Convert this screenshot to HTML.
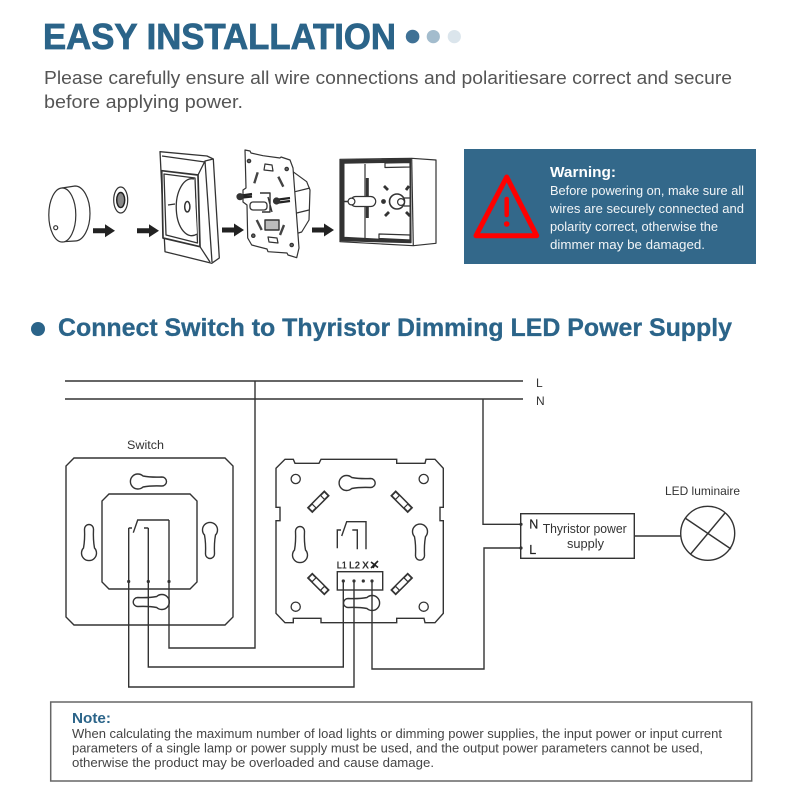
<!DOCTYPE html>
<html><head><meta charset="utf-8"><style>
html,body{margin:0;padding:0;background:#fff;width:800px;height:800px;overflow:hidden}
svg{display:block;filter:blur(0.35px)}
text{font-family:"Liberation Sans",sans-serif}
</style></head><body>
<svg width="800" height="800" viewBox="0 0 800 800" xmlns="http://www.w3.org/2000/svg">
<defs>
<path id="kh" d="M5,-5.5 Q13,-4 24,-4.5 A4.5,4.5 0 0 1 24,4.5 Q13,4 5,5.5 A7.5,7.5 0 1 1 5,-5.5Z" fill="#fff" stroke="#333" stroke-width="1.4"/>
<g id="sl"><rect x="-11.5" y="-3" width="23" height="6" fill="#fff" stroke="#333" stroke-width="1.8"/><rect x="-6" y="-3" width="12" height="6" fill="#fff" stroke="#333" stroke-width="1.2"/></g>
<path id="ar" d="M0,-2.5 H12 V-6.5 L22,0 L12,6.5 V2.5 H0Z" fill="#222"/>
</defs>

<text x="43" y="49" font-size="36" font-weight="700" fill="#2b6489" stroke="#2b6489" stroke-width="0.8" textLength="353" lengthAdjust="spacingAndGlyphs">EASY INSTALLATION</text>
<circle cx="412.6" cy="36.6" r="6.8" fill="#3f7195"/>
<circle cx="433.3" cy="36.6" r="6.6" fill="#a3bccd"/>
<circle cx="454.3" cy="36.6" r="6.6" fill="#dbe5ec"/>
<text x="44" y="84" font-size="18" fill="#555" textLength="688" lengthAdjust="spacingAndGlyphs">Please carefully ensure all wire connections and polaritiesare correct and secure</text>
<text x="44" y="108" font-size="18" fill="#555" textLength="199" lengthAdjust="spacingAndGlyphs">before applying power.</text>

<!-- knob -->
<g fill="#fff" stroke="#333" stroke-width="1.2">
<path d="M62,188 L75,186 A15,27.5 0 0 1 75,241 L62,241.7Z"/>
<ellipse cx="62.3" cy="215" rx="13.5" ry="27"/>
<circle cx="55.7" cy="227.7" r="2"/>
<ellipse cx="120.7" cy="200" rx="7" ry="13"/>
<ellipse cx="120.7" cy="200" rx="4" ry="7.5" fill="#888" stroke="#222" stroke-width="1.5"/>
</g>
<use href="#ar" x="93" y="230.7"/>
<use href="#ar" x="137" y="230.7"/>
<use href="#ar" x="222" y="230"/>
<use href="#ar" x="312" y="230"/>

<!-- plate -->
<g fill="#fff" stroke="#333" stroke-width="1.3" stroke-linejoin="round">
<path d="M160,151.7 L207,156 L213.3,159 L219.3,258 L211.7,263.3 L165,251.7Z"/>
<path d="M162,156 L205,162" fill="none"/>
<path d="M161.7,170.7 L198,175 L200,246.7 L163,238Z" stroke-width="1.7"/>
<path d="M164,174 L195,178 L197.5,243 L166,235Z"/>
<path d="M198,175 L205,161 L213.3,159 M200,246.7 L210,262 M205,161 L212,262" fill="none"/>
<path d="M194,179 A15.5,28.5 0 1 0 197,234" fill="#fff"/>
<path d="M168,205 L175,204" fill="none"/>
<ellipse cx="187.3" cy="206.7" rx="2.6" ry="5.2" stroke-width="1.5"/>
</g>

<!-- mechanism -->
<g fill="#fff" stroke="#333" stroke-width="1.2" stroke-linejoin="round">
<path d="M293,171.7 L306.7,181.7 L310,190 L309,220 L301.7,232 L295,234Z"/>
<path d="M295,191.7 L310,188 M296.7,213 L309,210" fill="none"/>
<path d="M245,150 L250,151 L251,153 L263,155.7 L280,158 L281,157 L290,160 L293,168 L299,248 L296.7,257.7 L288,255 L287,253 L268,251.7 L267,249 L251.7,245 L247.7,238 L247,205 L243,202 L243,190 L246,188Z"/>
<circle cx="249" cy="161" r="1.7" fill="#666"/><circle cx="286.7" cy="169" r="1.7" fill="#666"/>
<circle cx="253.3" cy="235.7" r="1.7" fill="#666"/><circle cx="291.7" cy="245" r="1.7" fill="#666"/>
<path d="M265,164 L272,165 L273,171 L264,170Z"/>
<path d="M268,237 L277,238 L278,243 L269,242Z"/>
<path d="M257.7,172.3 L254.3,183.3 M278.3,176.7 L283.3,186.7 M256.7,220 L261.7,230 M284,225 L280,235" fill="none" stroke-width="2.4" stroke="#444"/>
<rect x="250" y="202" width="17" height="8" rx="3" stroke-width="1.3"/>
<path d="M260,193 H270 V212 H262 M268,197 L272,212" fill="none" stroke-width="1.4"/>
<rect x="265" y="220" width="14" height="10" fill="#bbb" stroke-width="1.4"/>
<path d="M238,196 L252,194 M238,198 L252,196.5 M275,200 L290,198 M275,203 L290,201" fill="none" stroke="#222" stroke-width="2.2"/>
<circle cx="240" cy="196.7" r="3" fill="#333"/>
<circle cx="276.5" cy="201" r="3" fill="#333"/>
</g>

<!-- box -->
<g fill="#fff" stroke="#333" stroke-width="1.2" stroke-linejoin="round">
<path d="M340,159.3 L411.7,158.3 L436,160 L436,243.3 L413.3,245.7 L340,241.7Z"/>
<path d="M411.7,158.3 L413.3,245.7" fill="none"/>
<path d="M341,160.3 L410.5,159.3 L411,242.6 L341,240.7Z" fill="#333"/>
<path d="M344,163.3 L410,162 L410,240.7 L344,237.3Z" stroke-width="1"/>
<path d="M365,164 L365,238" fill="none"/>
<rect x="365.8" y="178" width="3" height="40" fill="#333" stroke="none"/>
<path d="M385,163 L410,162.5 L410,167 L385,167.5Z"/>
<path d="M379,234 L410,235 L410,240 L379,238.5Z"/>
<rect x="350.7" y="196.5" width="25" height="10" rx="5"/>
<circle cx="351.5" cy="201.5" r="3.4"/>
<path d="M344,201.5 H348" fill="none" stroke-width="1.5"/>
<circle cx="397" cy="201.5" r="7.5" stroke-width="1.6"/>
<circle cx="401" cy="202" r="3.4"/>
<path d="M404,198 H410 M404,206 H410" fill="none"/>
<circle cx="383.5" cy="201.5" r="1.8" fill="#333"/>
<g fill="none" stroke-width="2.8">
<path d="M384,186 L388,190 M385,216 L389,212 M409,186 L406,190 M406,212 L410,216"/>
</g>
</g>

<!-- warning -->
<rect x="464" y="149" width="292" height="115" fill="#33688a"/>
<path d="M506.7,177 L476,235.7 L536.7,235.7Z" fill="none" stroke="#f00" stroke-width="5" stroke-linejoin="round"/>
<path d="M506.7,199 V215" stroke="#f00" stroke-width="4.5" stroke-linecap="round"/>
<circle cx="506.7" cy="224" r="2.8" fill="#f00"/>
<text x="550" y="177" font-size="15" font-weight="700" fill="#fff" textLength="66" lengthAdjust="spacingAndGlyphs">Warning:</text>
<g font-size="12.5" fill="#f2f5f7">
<text x="550" y="195" textLength="194" lengthAdjust="spacingAndGlyphs">Before powering on, make sure all</text>
<text x="550" y="213" textLength="194" lengthAdjust="spacingAndGlyphs">wires are securely connected and</text>
<text x="550" y="231" textLength="168" lengthAdjust="spacingAndGlyphs">polarity correct, otherwise the</text>
<text x="550" y="249" textLength="155" lengthAdjust="spacingAndGlyphs">dimmer may be damaged.</text>
</g>

<!-- heading -->
<circle cx="38" cy="329" r="7" fill="#2b6489"/>
<text x="58" y="336" font-size="25" font-weight="700" fill="#2b6489" stroke="#2b6489" stroke-width="0.3" textLength="674" lengthAdjust="spacingAndGlyphs">Connect Switch to Thyristor Dimming LED Power Supply</text>

<!-- wiring -->
<g fill="none" stroke="#333" stroke-width="1.4">
<path d="M65,381 H523 M65,399 H523"/>
<path d="M74,458 H225 L233,466 V617 L225,625 H74 L66,617 V466Z"/>
<path d="M109,494 H190 L197,501 V582 L190,589 H109 L102,582 V501Z"/>
</g>
<use href="#kh" transform="translate(138,481.5)"/>
<use href="#kh" transform="translate(89,553) rotate(-90)"/>
<use href="#kh" transform="translate(210,530) rotate(90)"/>
<use href="#kh" transform="translate(161.7,602) rotate(180)"/>

<!-- dimmer plate -->
<path d="M276,468.3 L285,459.3 H293.3 L295,463.3 H319 L321,459.3 H396.7 V463.3 H425 L426,459.3 H435 L443.3,468.3 V507.3 H440 V520.7 H443.3 V613.3 L435,622.7 H425 L424,618.3 H396.7 V622.7 H321 V618.3 H293.3 V622.7 H285 L276,613.3 V520.7 H280 V507.3 H276Z" fill="#fff" stroke="#333" stroke-width="1.4"/>
<g fill="#fff" stroke="#333" stroke-width="1.3">
<circle cx="295.7" cy="479" r="4.6"/><circle cx="423.7" cy="479" r="4.6"/>
<circle cx="295.7" cy="606.7" r="4.6"/><circle cx="423.7" cy="606.7" r="4.6"/>
</g>
<use href="#sl" transform="translate(318.3,501.7) rotate(-45)"/>
<use href="#sl" transform="translate(401.7,501.7) rotate(45)"/>
<use href="#sl" transform="translate(318.3,584) rotate(45)"/>
<use href="#sl" transform="translate(401.7,584) rotate(-45)"/>
<use href="#kh" transform="translate(346.7,483)"/>
<use href="#kh" transform="translate(300,555) rotate(-90)"/>
<use href="#kh" transform="translate(420,531.7) rotate(90)"/>
<use href="#kh" transform="translate(372,603) rotate(180)"/>

<g fill="none" stroke="#333" stroke-width="1.4">
<rect x="337.3" y="571.7" width="45.4" height="18.3" fill="#fff"/>
<path d="M337.3,548.3 V530 H341 M341.7,536 L346.7,521.7 H366 V549.3 M352.3,530 H357.3 V549.3"/>
<path d="M128.7,528 H132 M133.3,532.7 L137.7,520 H169 M144,528 H148.3"/>
<path d="M128.7,528 V687 H354 V581"/>
<path d="M148.3,528 V667 H343.3 V581"/>
<path d="M169,520 V648 H255 V381"/>
<path d="M372,581 V669 H484 V548 H521"/>
<path d="M483,399 V524.3 H521"/>
<rect x="520.7" y="513.7" width="113.6" height="44.6" fill="#fff"/>
<path d="M634.3,536 H680.6"/>
<circle cx="707.7" cy="533.3" r="27"/>
<path d="M685,518 L731,549 M690.7,554 L725,513"/>
</g>
<g fill="#333">
<circle cx="128.7" cy="581.5" r="1.6"/><circle cx="148.3" cy="581.5" r="1.6"/><circle cx="169" cy="581.5" r="1.6"/>
<circle cx="343.3" cy="581" r="1.6"/><circle cx="354" cy="581" r="1.6"/><circle cx="363.3" cy="581" r="1.6"/><circle cx="372" cy="581" r="1.6"/>
<circle cx="521" cy="524.3" r="1.6"/><circle cx="521" cy="548" r="1.6"/>
</g>
<path d="M371,562 L378,567.5 M371,568 L378,561 M373,568 L376,563" fill="none" stroke="#222" stroke-width="1.6"/>

<g fill="#333">
<text x="536" y="387" font-size="12">L</text>
<text x="536" y="405" font-size="12">N</text>
<text x="127" y="449" font-size="11.5" textLength="37" lengthAdjust="spacingAndGlyphs">Switch</text>
<text x="336.7" y="568.7" font-size="10.5" font-weight="700" textLength="10" lengthAdjust="spacingAndGlyphs">L1</text>
<text x="349" y="568.7" font-size="10.5" font-weight="700" textLength="11" lengthAdjust="spacingAndGlyphs">L2</text>
<text x="362" y="568.7" font-size="10.5" font-weight="700">X</text>
<text x="529.3" y="528.5" font-size="12.5" fill="#222" stroke="#222" stroke-width="0.2">N</text>
<text x="529.3" y="554" font-size="12.5" fill="#222" stroke="#222" stroke-width="0.2">L</text>
<text x="542.7" y="533" font-size="12.5" textLength="84" lengthAdjust="spacingAndGlyphs">Thyristor power</text>
<text x="567" y="548" font-size="12.5" textLength="37" lengthAdjust="spacingAndGlyphs">supply</text>
<text x="665" y="495" font-size="12" textLength="75" lengthAdjust="spacingAndGlyphs">LED luminaire</text>
</g>

<!-- note -->
<rect x="50.7" y="702" width="701" height="79" fill="none" stroke="#666" stroke-width="1.5"/>
<text x="72" y="723" font-size="14.5" font-weight="700" fill="#2b6489" textLength="39" lengthAdjust="spacingAndGlyphs">Note:</text>
<g font-size="12.5" fill="#444">
<text x="72" y="738" textLength="650" lengthAdjust="spacingAndGlyphs">When calculating the maximum number of load lights or dimming power supplies, the input power or input current</text>
<text x="72" y="752.5" textLength="631" lengthAdjust="spacingAndGlyphs">parameters of a single lamp or power supply must be used, and the output power parameters cannot be used,</text>
<text x="72" y="767" textLength="362" lengthAdjust="spacingAndGlyphs">otherwise the product may be overloaded and cause damage.</text>
</g>
</svg>
</body></html>
